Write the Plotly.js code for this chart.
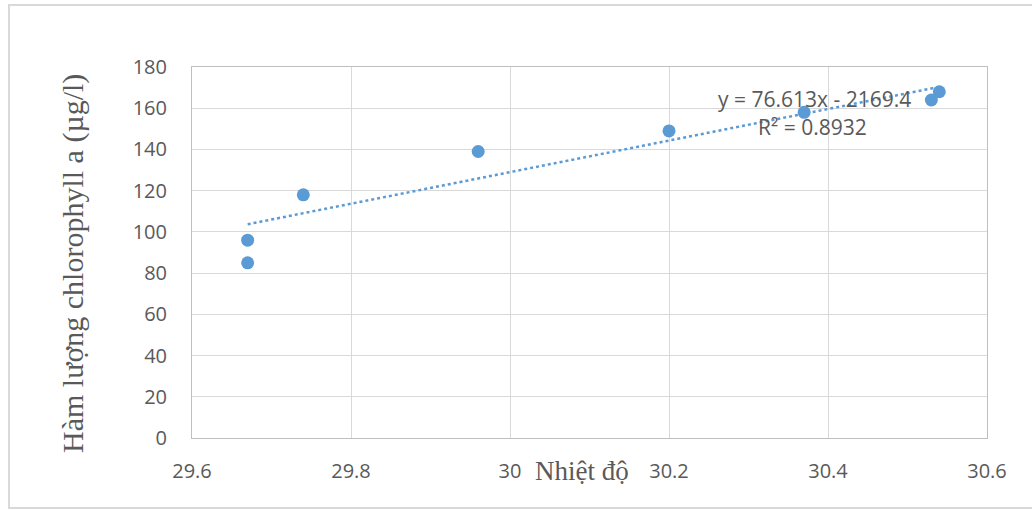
<!DOCTYPE html>
<html>
<head>
<meta charset="utf-8">
<script src="https://cdn.plot.ly/plotly-3.0.1.min.js"></script>
<style>html,body{margin:0;padding:0;background:#fff;}#chart{width:1032px;height:510px;}</style>
</head>
<body>
<div id="chart"></div>
<script>
var temperature = [29.67, 29.67, 29.74, 29.96, 30.2, 30.37, 30.53, 30.54];
var chlorophyll = [85, 96, 118, 139, 149, 158, 164, 168];
var trendSlope = 76.613;
var trendIntercept = -2169.4;
var trendR2 = 0.8932;
var xTickVals = [29.6, 29.8, 30, 30.2, 30.4, 30.6];
var xTickText = ['29.6', '29.8', '30', '30.2', '30.4', '30.6'];
var yTickVals = [0, 20, 40, 60, 80, 100, 120, 140, 160, 180];

var xMin = Math.min.apply(null, temperature);
var xMax = Math.max.apply(null, temperature);
var trendX = [xMin, xMax];
var trendY = trendX.map(function (x) { return trendSlope * x + trendIntercept; });

var blue = '#5B9BD5';
var data = [
  {
    x: trendX, y: trendY, type: 'scatter', mode: 'lines',
    line: {color: blue, width: 2.5, dash: 'dot'}, hoverinfo: 'skip'
  },
  {
    x: temperature, y: chlorophyll, type: 'scatter', mode: 'markers',
    marker: {color: blue, size: 13}
  }
];

var grey = '#595959';
var layout = {
  width: 1032, height: 510,
  margin: {l: 192, r: 45, t: 67, b: 72},
  paper_bgcolor: '#fff', plot_bgcolor: '#fff',
  showlegend: false,
  font: {family: 'Open Sans, sans-serif', color: grey, size: 20},
  xaxis: {
    range: [29.6, 30.6], tickvals: xTickVals, ticktext: xTickText,
    showgrid: true, gridcolor: '#d9d9d9', gridwidth: 1,
    zeroline: false, showline: true, linecolor: '#bfbfbf', mirror: true,
    ticks: 'outside', ticklen: 15, tickcolor: 'rgba(0,0,0,0)',
    tickfont: {size: 20, color: grey}
  },
  yaxis: {
    range: [0, 180], tickvals: yTickVals,
    showgrid: true, gridcolor: '#d9d9d9', gridwidth: 1,
    zeroline: false, showline: true, linecolor: '#bfbfbf', mirror: true,
    ticks: 'outside', ticklen: 20, tickcolor: 'rgba(0,0,0,0)',
    tickfont: {size: 20, color: grey}
  },
  annotations: [
    {
      text: 'y = ' + trendSlope + 'x - ' + Math.abs(trendIntercept),
      xref: 'x', yref: 'y', x: 30.383, y: 164.5, xanchor: 'center', showarrow: false,
      font: {size: 21, color: grey}
    },
    {
      text: 'R² = ' + trendR2,
      xref: 'x', yref: 'y', x: 30.38, y: 151, xanchor: 'center', showarrow: false,
      font: {size: 21, color: grey}
    },
    {
      text: 'Nhiệt độ', xref: 'paper', yref: 'paper', x: 0.49, y: 0,
      xanchor: 'center', yanchor: 'bottom', yshift: -50, showarrow: false,
      font: {family: 'Liberation Serif, serif', size: 27, color: grey}
    },
    {
      text: 'Hàm lượng chlorophyll a (µg/l)', xref: 'paper', yref: 'paper',
      x: 0, xshift: -119, y: 0.469, xanchor: 'center', yanchor: 'middle',
      textangle: -90, showarrow: false,
      font: {family: 'Liberation Serif, serif', size: 30, color: grey}
    }
  ],
  shapes: [
    {
      type: 'rect', xref: 'paper', yref: 'paper',
      x0: (9 - 192) / 795, x1: (1040 - 192) / 795,
      y0: -(508 - 438) / 371, y1: 1 + (67 - 5) / 371,
      line: {color: '#d9d9d9', width: 2}, layer: 'below'
    }
  ]
};

Plotly.newPlot('chart', data, layout, {displayModeBar: false, staticPlot: true});
</script>
</body>
</html>
